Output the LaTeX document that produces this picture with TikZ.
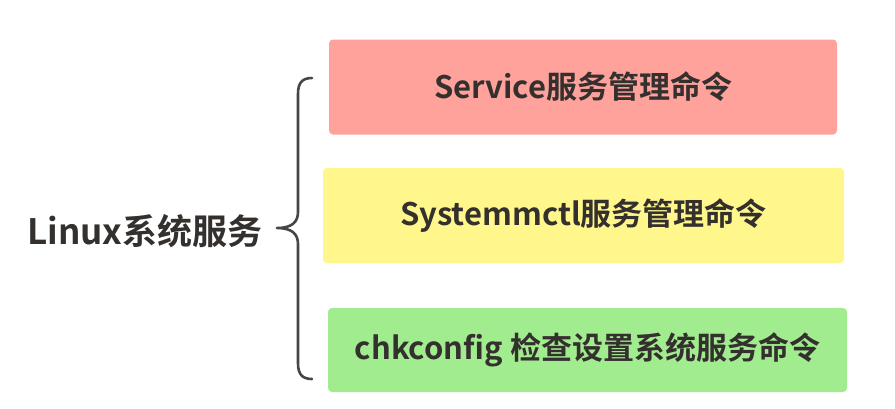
\documentclass[tikz,border=0pt]{standalone}
\usepackage{fontspec}
\setmainfont{Noto Sans CJK SC}[BoldFont={* Bold}]
\definecolor{boxred}{RGB}{255,162,155}
\definecolor{boxyellow}{RGB}{255,247,140}
\definecolor{boxgreen}{RGB}{160,236,142}
\definecolor{txt}{RGB}{52,48,46}
\definecolor{bracecol}{RGB}{70,70,70}
\begin{document}
\begin{tikzpicture}[x=1pt,y=-1pt,
  cmdbox/.style={rounded corners=4pt, inner sep=0pt, text=txt,
    font=\fontsize{31}{36}\selectfont\bfseries},
  bracepath/.style={draw=bracecol, line width=2.6pt, line cap=round, line join=round}]
\useasboundingbox[fill=white] (0,0) rectangle (895,408);
\node[cmdbox, fill=boxred, minimum width=508pt, minimum height=95pt] (svc) at (583,87) {Service服务管理命令};
\node[cmdbox, fill=boxyellow, minimum width=521pt, minimum height=95pt] (sysd) at (583.5,215.5) {Systemmctl服务管理命令};
\node[cmdbox, fill=boxgreen, minimum width=519pt, minimum height=84pt] (chk) at (587.5,350) {chkconfig 检查设置系统服务命令};
\node[text=txt, font=\fontsize{35}{40}\selectfont\bfseries, inner sep=0pt] (linux) at (145,231) {Linux系统服务};
\coordinate (bt) at (312,78);
\coordinate (bm) at (277,228);
\coordinate (bb) at (312,379);
\draw[bracepath] (bt) .. controls (302,78) and (298,83) .. (298,94)
  -- (298,212) .. controls (298,222) and (292,228) .. (bm)
  .. controls (292,228) and (298,234) .. (298,244)
  -- (298,363) .. controls (298,374) and (302,379) .. (bb);
\end{tikzpicture}
\end{document}
